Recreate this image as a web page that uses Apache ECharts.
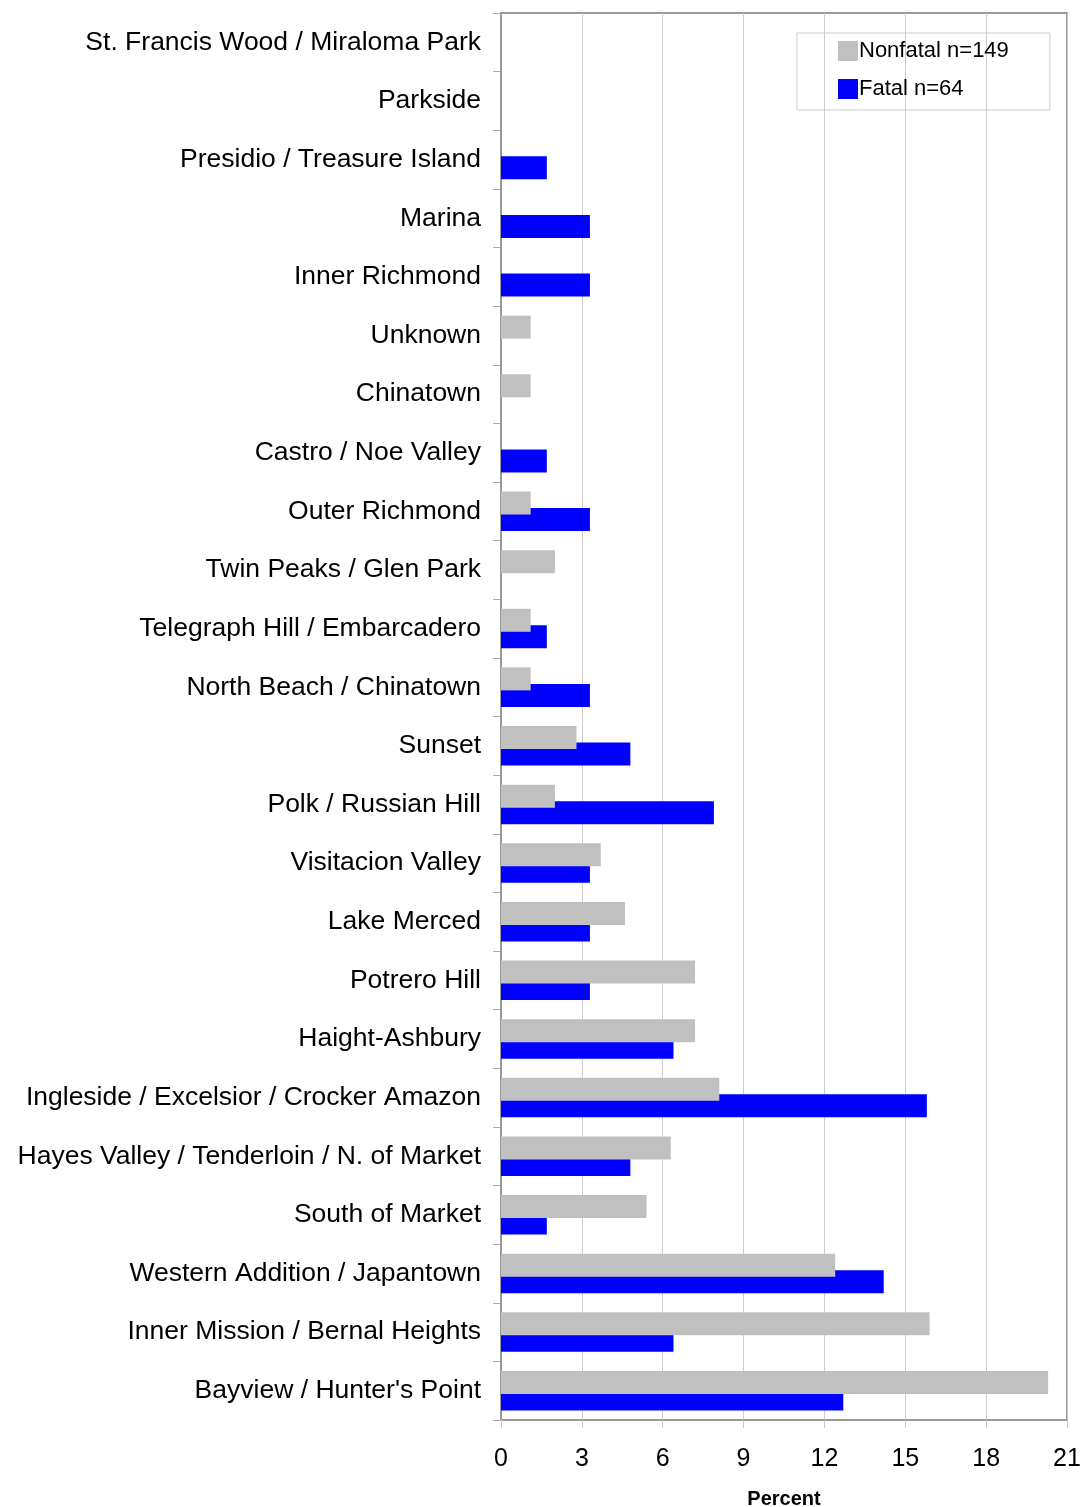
<!DOCTYPE html>
<html>
<head>
<meta charset="utf-8">
<script src="https://cdn.jsdelivr.net/npm/echarts@6/dist/echarts.min.js"></script>
<style>
  html, body { margin: 0; padding: 0; background: #fff; }
  #chart { width: 1085px; height: 1507px; }
</style>
</head>
<body>
<div id="chart"></div>
<script>
// categories listed bottom to top (category axis runs upward)
const districts = [
  "Bayview / Hunter's Point",
  'Inner Mission / Bernal Heights',
  'Western Addition / Japantown',
  'South of Market',
  'Hayes Valley / Tenderloin / N. of Market',
  'Ingleside / Excelsior / Crocker Amazon',
  'Haight-Ashbury',
  'Potrero Hill',
  'Lake Merced',
  'Visitacion Valley',
  'Polk / Russian Hill',
  'Sunset',
  'North Beach / Chinatown',
  'Telegraph Hill / Embarcadero',
  'Twin Peaks / Glen Park',
  'Outer Richmond',
  'Castro / Noe Valley',
  'Chinatown',
  'Unknown',
  'Inner Richmond',
  'Marina',
  'Presidio / Treasure Island',
  'Parkside',
  'St. Francis Wood / Miraloma Park'
];

const nonfatal = [20.3, 15.9, 12.4, 5.4, 6.3, 8.1, 7.2, 7.2, 4.6, 3.7, 2.0, 2.8,
                  1.1, 1.1, 2.0, 1.1, 0, 1.1, 1.1, 0, 0, 0, 0, 0];
const fatal = [12.7, 6.4, 14.2, 1.7, 4.8, 15.8, 6.4, 3.3, 3.3, 3.3, 7.9, 4.8,
               3.3, 1.7, 0, 3.3, 1.7, 0, 0, 3.3, 3.3, 1.7, 0, 0];

const xTicks = [0, 3, 6, 9, 12, 15, 18, 21];

const chart = echarts.init(document.getElementById('chart'));

chart.setOption({
  animation: false,
  textStyle: { fontFamily: 'Liberation Sans, Arial, sans-serif' },
  grid: {
    left: 501, right: 18, top: 13, bottom: 87,
    outerBoundsMode: 'none',
    containLabel: false,
    show: true, borderColor: '#999', borderWidth: 2, backgroundColor: '#fff'
  },
  legend: {
    orient: 'vertical',
    left: 797, top: 33,
    padding: [7, 41, 10, 41],
    itemWidth: 20, itemHeight: 20, itemGap: 16,
    borderColor: '#ccc', borderWidth: 1,
    icon: 'rect',
    textStyle: { fontSize: 22, color: '#000', padding: [2, 0, 0, -4] },
    data: ['Nonfatal n=149', 'Fatal n=64']
  },
  xAxis: {
    type: 'value',
    min: xTicks[0], max: xTicks[xTicks.length - 1], interval: 3,
    name: 'Percent',
    nameLocation: 'middle',
    nameGap: 69,
    nameTextStyle: { fontSize: 20, fontWeight: 'bold', color: '#000' },
    axisLine: { show: true, lineStyle: { color: '#999', width: 2 } },
    axisTick: { show: true, length: 8, lineStyle: { color: '#ccc' } },
    axisLabel: { fontSize: 25, color: '#000', margin: 27 },
    splitLine: { show: true, lineStyle: { color: '#ccc', width: 1 } }
  },
  yAxis: {
    type: 'category',
    data: districts,
    axisLine: { show: true, lineStyle: { color: '#999', width: 2 } },
    axisTick: { show: true, length: 8, lineStyle: { color: '#aaa' } },
    axisLabel: { fontSize: 26.5, color: '#000', margin: 20 },
    splitLine: { show: false }
  },
  series: [
    {
      name: 'Nonfatal n=149',
      type: 'bar',
      data: nonfatal,
      barWidth: 23,
      barGap: '-28%',
      z: 3,
      itemStyle: { color: '#c0c0c0' }
    },
    {
      name: 'Fatal n=64',
      type: 'bar',
      data: fatal,
      barWidth: 23,
      z: 2,
      itemStyle: { color: '#0000ff' }
    }
  ]
});
</script>
</body>
</html>
